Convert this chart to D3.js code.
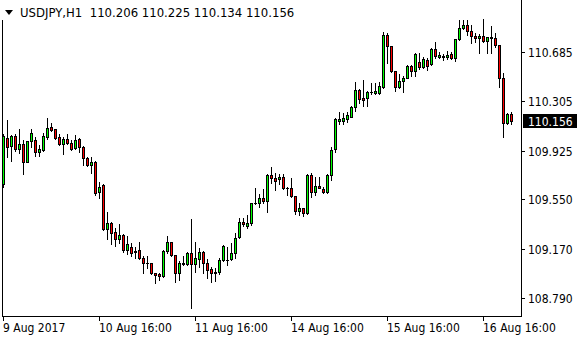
<!DOCTYPE html>
<html><head><meta charset="utf-8">
<script src="https://cdn.jsdelivr.net/npm/d3@7/dist/d3.min.js"></script>
<style>html,body{margin:0;padding:0;background:#fff;}svg{display:block;}</style>
</head><body>
<script>
const symbolTitle = "USDJPY,H1";
const lastOHLC = ["110.206","110.225","110.134","110.156"];
const tickLabels = ["9 Aug 2017","10 Aug 16:00","11 Aug 16:00","14 Aug 16:00","15 Aug 16:00","16 Aug 16:00"];
const tickBars = [0,24,48,72,96,120];
const priceTicks = [110.685,110.305,109.925,109.550,109.170,108.790];
const lastPrice = 110.156;

const open = [109.669,110.023,109.962,110.039,109.939,109.977,109.839,110.000,110.008,109.916,
109.931,110.031,110.108,110.093,110.031,109.977,110.016,109.985,109.946,110.016,
109.954,109.869,109.816,109.839,109.608,109.661,109.323,109.369,109.300,109.246,
109.277,109.161,109.184,109.146,109.161,109.100,109.061,109.061,108.984,108.976,
108.961,109.153,109.223,109.123,108.984,109.053,109.053,109.138,109.053,109.092,
109.146,109.061,109.015,108.984,108.992,109.084,109.084,109.092,109.138,109.261,
109.377,109.346,109.369,109.523,109.523,109.561,109.538,109.739,109.715,109.708,
109.723,109.638,109.638,109.577,109.461,109.484,109.446,109.739,109.608,109.654,
109.631,109.608,109.739,109.939,110.154,110.154,110.170,110.185,110.262,110.393,
110.331,110.331,110.378,110.370,110.370,110.416,110.816,110.732,110.539,110.416,
110.462,110.485,110.578,110.539,110.609,110.570,110.624,110.593,110.709,110.647,
110.655,110.647,110.670,110.639,110.786,110.870,110.893,110.847,110.809,110.793,
110.809,110.770,110.801,110.793,110.740,110.485,110.139,110.206];
const high = [110.054,110.162,110.046,110.054,110.093,110.008,110.003,110.093,110.031,109.969,
110.062,110.177,110.139,110.095,110.054,110.031,110.054,110.008,110.046,110.023,
109.960,109.877,109.877,109.842,109.685,109.669,109.454,109.377,109.330,109.361,
109.284,109.269,109.215,109.184,109.223,109.115,109.115,109.063,108.986,108.984,
109.161,109.269,109.225,109.125,109.077,109.115,109.146,109.400,109.223,109.176,
109.153,109.092,109.030,109.023,109.100,109.196,109.184,109.215,109.292,109.407,
109.407,109.431,109.525,109.639,109.592,109.631,109.746,109.800,109.754,109.746,
109.746,109.646,109.715,109.579,109.523,109.486,109.746,109.754,109.723,109.723,
109.646,109.746,109.954,110.177,110.224,110.216,110.224,110.270,110.455,110.400,
110.470,110.386,110.447,110.447,110.455,110.840,110.832,110.734,110.541,110.516,
110.501,110.585,110.585,110.678,110.678,110.647,110.639,110.716,110.763,110.686,
110.670,110.693,110.686,110.786,110.932,110.932,110.932,110.893,110.832,110.824,
110.940,110.803,110.886,110.832,110.742,110.524,110.216,110.225];
const low = [109.646,109.877,109.846,109.923,109.908,109.746,109.836,109.954,109.885,109.885,
109.923,110.016,110.077,110.016,109.969,109.900,109.977,109.931,109.939,109.916,
109.816,109.808,109.754,109.585,109.561,109.315,109.246,109.207,109.192,109.215,
109.146,109.130,109.115,109.100,109.092,108.984,109.023,108.976,108.907,108.930,
108.953,109.138,109.115,108.915,108.930,109.046,109.046,108.714,108.992,109.030,
108.984,108.946,108.915,108.923,108.976,109.077,109.046,109.084,109.100,109.253,
109.346,109.330,109.354,109.515,109.492,109.523,109.454,109.677,109.623,109.669,
109.631,109.585,109.569,109.438,109.431,109.423,109.438,109.569,109.585,109.638,
109.600,109.600,109.700,109.916,110.131,110.131,110.147,110.185,110.231,110.293,
110.270,110.270,110.362,110.362,110.362,110.408,110.601,110.532,110.385,110.408,
110.378,110.485,110.501,110.501,110.555,110.562,110.547,110.585,110.639,110.639,
110.624,110.632,110.632,110.616,110.778,110.863,110.816,110.755,110.763,110.678,
110.763,110.678,110.678,110.724,110.416,110.031,110.131,110.134];
const close = [110.039,109.954,110.039,109.939,109.977,109.839,110.000,110.062,109.916,109.939,
110.039,110.100,110.085,110.023,109.977,110.016,109.985,109.939,110.008,109.954,
109.869,109.816,109.839,109.600,109.646,109.323,109.369,109.292,109.246,109.277,
109.161,109.207,109.138,109.153,109.100,109.061,109.063,108.984,108.969,108.961,
109.153,109.223,109.123,108.984,109.061,109.061,109.138,109.053,109.100,109.146,
109.061,109.007,108.984,108.992,109.084,109.192,109.086,109.138,109.253,109.377,
109.361,109.369,109.523,109.525,109.561,109.538,109.739,109.715,109.692,109.723,
109.638,109.640,109.577,109.461,109.484,109.446,109.739,109.608,109.654,109.640,
109.608,109.739,109.931,110.170,110.170,110.177,110.200,110.262,110.393,110.324,
110.316,110.378,110.380,110.386,110.424,110.816,110.732,110.539,110.416,110.462,
110.485,110.578,110.539,110.670,110.570,110.632,110.578,110.709,110.655,110.662,
110.647,110.662,110.639,110.784,110.870,110.893,110.847,110.809,110.793,110.809,
110.770,110.801,110.793,110.740,110.485,110.139,110.208,110.156];

const W = 580, H = 340;
const FONT = '"DejaVu Sans Condensed","Liberation Sans",sans-serif';
const bars = open.map((o,i)=>({i, o, h:high[i], l:low[i], c:close[i]}));

const svg = d3.select("body").append("svg").attr("width",W).attr("height",H)
  .style("font-family",FONT);

const plotLeft = 2, plotRight = 521, plotBottom = 316;
const x = d3.scaleLinear().domain([0, bars.length-1]).range([3, 3 + (bars.length-1)*4]);
const y = d3.scaleLinear().domain([108.790, 110.685]).range([298, 52]);

// candles
const g = svg.append("g");
bars.forEach(d=>{
  const cx = Math.round(x(d.i));
  const yh = Math.round(y(d.h)), yl = Math.round(y(d.l));
  g.append("line").attr("x1",cx+0.5).attr("x2",cx+0.5).attr("y1",yh).attr("y2",yl+1)
    .attr("stroke","#000").attr("stroke-width",1);
  const yt = Math.round(y(Math.max(d.o,d.c))), yb = Math.round(y(Math.min(d.o,d.c)));
  if (yb - yt < 1) {
    g.append("line").attr("x1",cx-1).attr("x2",cx+2).attr("y1",yt+0.5).attr("y2",yt+0.5)
      .attr("stroke","#000").attr("stroke-width",1);
  } else {
    g.append("rect").attr("x",cx-0.5).attr("y",yt+0.5).attr("width",2).attr("height",yb-yt)
      .attr("fill", d.c>=d.o ? "#00ff00" : "#ff0000").attr("stroke","#000").attr("stroke-width",1);
  }
});

// frame
svg.append("line").attr("x1",plotLeft+0.5).attr("x2",plotLeft+0.5).attr("y1",0).attr("y2",plotBottom+1).attr("stroke","#000");
svg.append("line").attr("x1",plotRight+0.5).attr("x2",plotRight+0.5).attr("y1",0).attr("y2",plotBottom+1).attr("stroke","#000");
svg.append("line").attr("x1",plotLeft).attr("x2",plotRight+1).attr("y1",plotBottom+0.5).attr("y2",plotBottom+0.5).attr("stroke","#000");

// price axis
const yAxis = svg.append("g");
priceTicks.forEach(p=>{
  const yy = Math.round(y(p));
  yAxis.append("line").attr("x1",plotRight+1).attr("x2",plotRight+4).attr("y1",yy+0.5).attr("y2",yy+0.5).attr("stroke","#000");
  yAxis.append("text").attr("x",528).attr("y",yy+4.5).attr("font-size","12px").attr("fill","#000").text(p.toFixed(3));
});
// current price label
const ly = Math.round(y(lastPrice));
svg.append("rect").attr("x",523).attr("y",ly-7).attr("width",54).attr("height",14).attr("fill","#000");
svg.append("text").attr("x",528).attr("y",ly+4.5).attr("font-size","12px").attr("fill","#fff").text(lastPrice.toFixed(3));

// time axis
const xAxis = svg.append("g");
tickBars.forEach((b,k)=>{
  const xx = Math.round(x(b));
  xAxis.append("line").attr("x1",xx+0.5).attr("x2",xx+0.5).attr("y1",plotBottom+1).attr("y2",plotBottom+5).attr("stroke","#000");
  xAxis.append("text").attr("x",xx).attr("y",332).attr("font-size","12px").attr("fill","#000").text(tickLabels[k]);
});

// title
svg.append("rect").attr("x",0).attr("y",0).attr("width",292).attr("height",20).attr("fill","#fff");
svg.append("path").attr("d","M5,10 L13,10 L9,15 Z").attr("fill","#000");
svg.append("text").attr("x",20).attr("y",17).attr("font-size","13px").attr("fill","#000")
  .attr("xml:space","preserve").style("white-space","pre")
  .text(symbolTitle + "  " + lastOHLC.join(" "));
</script>
</body></html>
